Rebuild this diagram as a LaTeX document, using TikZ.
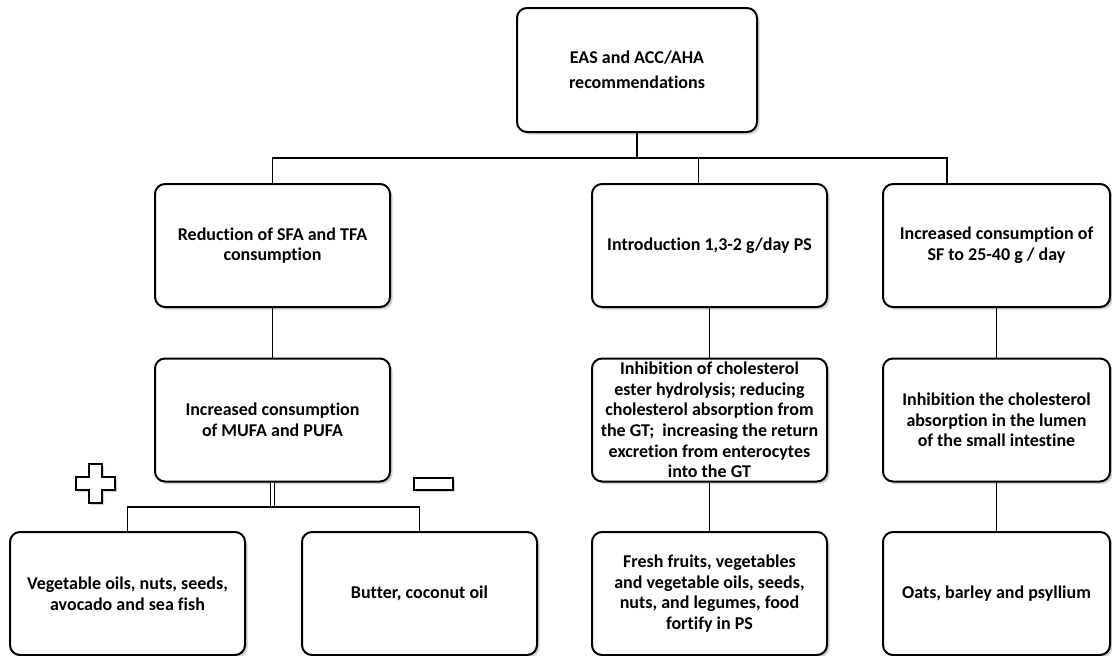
\documentclass[tikz,border=0pt]{standalone}
\usepackage{fontspec}
\setmainfont{Carlito}[Ligatures=NoCommon]
\usetikzlibrary{shadows,calc}
\begin{document}
\begin{tikzpicture}
    [
    x=1pt,y=-1pt,
    box/.style={draw,line width=2pt,rounded corners=10pt,fill=white,
      minimum width=235pt,minimum height=123pt,align=center,inner sep=1pt,
      font=\fontsize{18}{20.6}\selectfont\bfseries,
      drop shadow={shadow xshift=2.5pt,shadow yshift=-2.5pt,opacity=0.35}},
    link/.style={line width=1.6pt},
    sign/.style={draw,line width=2pt,fill=white,
      drop shadow={shadow xshift=2pt,shadow yshift=-2pt,opacity=0.35}},
    ]
    \useasboundingbox (0,0) rectangle (1112,656);
    \node (top) at (637,70) [box,minimum width=240pt,minimum height=124pt] {EAS and ACC/AHA\\[4pt]recommendations};
    \node (red) at (272.5,245.5) [box] {Reduction of SFA and TFA\\consumption};
    \node (mufa) at (272.5,420) [box] {Increased consumption\\of MUFA and PUFA};
    \node (veg) at (127.5,593.5) [box] {Vegetable oils, nuts, seeds,\\avocado and sea fish};
    \node (butter) at (419.5,593.5) [box] {Butter, coconut oil};
    \node (intro) at (709.5,245.5) [box] {Introduction 1,3-2 g/day PS};
    \node (inhib) at (709.5,420) [box] {Inhibition of cholesterol\\ester hydrolysis; reducing\\cholesterol absorption from\\the GT;~ increasing the return\\excretion from enterocytes\\into the GT};
    \node (fresh) at (709.5,593.5) [box] {Fresh fruits, vegetables\\and vegetable oils, seeds,\\nuts, and legumes, food\\fortify in PS};
    \node (sf) at (996.5,245.5) [box,minimum width=227pt] {Increased consumption of\\SF to 25-40 g / day};
    \node (inhsf) at (996.5,420) [box,minimum width=227pt] {Inhibition the cholesterol\\absorption in the lumen\\of the small intestine};
    \node (oats) at (996.5,593.5) [box,minimum width=227pt] {Oats, barley and psyllium};
    % plus and minus signs
    \draw [sign] (89,464) -- (102,464) -- (102,477) -- (115,477) -- (115,490) -- (102,490)
      -- (102,503) -- (89,503) -- (89,490) -- (76,490) -- (76,477) -- (89,477) -- cycle;
    \draw [sign] (414,478) rectangle (453,490);
    % connectors
    \coordinate (bus) at (947,158);
    \coordinate (fork) at (272.5,507);
    \draw [link] (top.south) -- (top.south |- bus);
    \draw [link] (red.north) |- (bus) -- (bus |- sf.north);
    \draw [link] ($(intro.north)+(-11,0)$) -- ($(intro.north |- bus)+(-11,0)$);
    \draw [link] (red.south) -- (mufa.north);
    \draw [line width=0.9pt,double,double distance=2.5pt] (mufa.south) -- (fork);
    \draw [link] (veg.north) |- (fork) -| (butter.north);
    \draw [link] (intro.south) -- (inhib.north);
    \draw [link] (inhib.south) -- (fresh.north);
    \draw [link] (sf.south) -- (inhsf.north);
    \draw [link] (inhsf.south) -- (oats.north);
  \end{tikzpicture}
\end{document}
